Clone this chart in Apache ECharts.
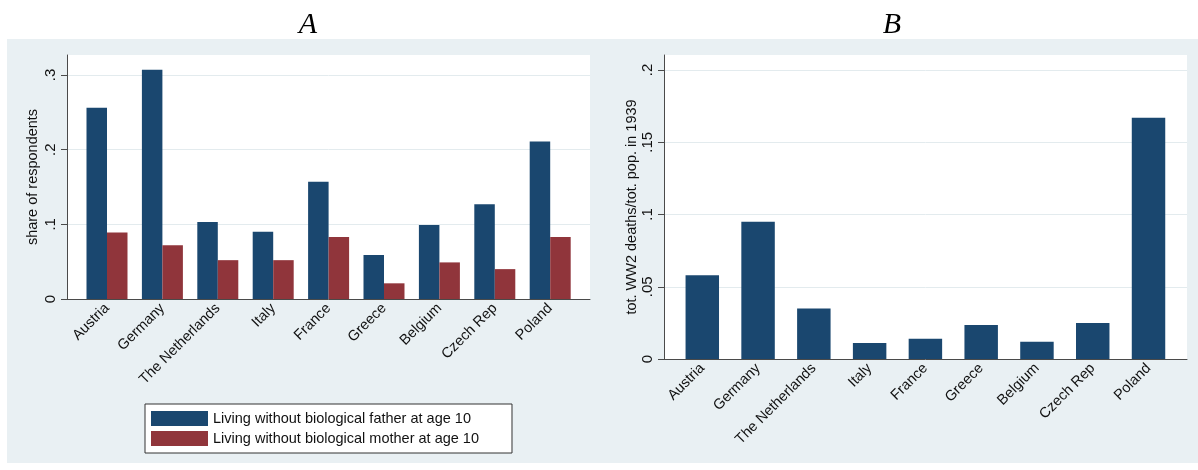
<!DOCTYPE html>
<html>
<head>
<meta charset="utf-8">
<script src="https://cdn.jsdelivr.net/npm/echarts@6/dist/echarts.min.js"></script>
<style>
  html, body { margin: 0; padding: 0; background: #ffffff; }
  #wrap { position: relative; width: 1198px; height: 470px; }
  #panelBg { position: absolute; left: 7px; top: 39px; width: 1191px; height: 424px; background: #e9f0f3; }
  #chart { position: absolute; left: 0; top: 0; width: 1198px; height: 470px; }
</style>
</head>
<body>
<div id="wrap">
  <div id="panelBg"></div>
  <div id="chart"></div>
</div>
<script>
// Countries shown on both panels
const countries = ['Austria', 'Germany', 'The Netherlands', 'Italy', 'France', 'Greece', 'Belgium', 'Czech Rep', 'Poland'];

// Panel A: share of respondents living without a biological parent at age 10
const fatherAbsent = [0.256, 0.307, 0.103, 0.090, 0.157, 0.059, 0.099, 0.127, 0.211];
const motherAbsent = [0.089, 0.072, 0.052, 0.052, 0.083, 0.021, 0.049, 0.040, 0.083];

// Panel B: total WW2 deaths over total population in 1939
const warDeathShare = [0.058, 0.095, 0.035, 0.011, 0.014, 0.0235, 0.012, 0.025, 0.167];

// Tick values for the two value axes
const ticksA = [0, 0.1, 0.2, 0.3];
const ticksB = [0, 0.05, 0.1, 0.15, 0.2];

const fatherName = 'Living without biological father at age 10';
const motherName = 'Living without biological mother at age 10';
const deathsName = 'tot. WW2 deaths/tot. pop. in 1939';

const NAVY = '#1a476f';
const MAROON = '#90353b';
const AXIS = '#4a4a4a';
const GRID_LINE = '#e3ebee';
const FONT = '"Liberation Sans", Arial, Helvetica, sans-serif';

const maxA = 0.3267;
const maxB = 0.2104;

// Stata-style tick labels: ".1" instead of "0.1"
const stataNum = v => (v === 0 ? '0' : String(+v.toFixed(4)).replace(/^0\./, '.'));

// Frame axes: draw axis lines, ticks, labels and grid lines across the full plot region
function frameX(gridIndex) {
  return {
    gridIndex, type: 'value', min: 0, max: 1,
    axisLine: { show: true, onZero: false, lineStyle: { color: AXIS, width: 1 } },
    axisTick: { show: false }, axisLabel: { show: false }, splitLine: { show: false }
  };
}
function frameY(gridIndex, max, interval, ticks, name, nameGap) {
  return {
    gridIndex, type: 'value', min: 0, max, interval,
    name, nameLocation: 'middle', nameRotate: 90, nameGap,
    nameTextStyle: { fontFamily: FONT, fontSize: 14.5, color: '#111' },
    axisLine: { show: true, lineStyle: { color: AXIS, width: 1 } },
    axisTick: { show: true, length: 6, customValues: ticks, lineStyle: { color: AXIS } },
    axisLabel: {
      customValues: ticks, rotate: 90, margin: 9,
      fontFamily: FONT, fontSize: 15, color: '#111',
      formatter: v => stataNum(v)
    },
    splitLine: { show: true, lineStyle: { color: GRID_LINE, width: 1 } }
  };
}
// Bar axes: category bands inset from the frame, labels rotated 45 degrees
function barX(gridIndex) {
  return {
    gridIndex, type: 'category', data: countries,
    axisLine: { show: false }, axisTick: { show: false },
    axisLabel: { interval: 0, rotate: 45, margin: 7, fontFamily: FONT, fontSize: 14.5, color: '#111' },
    splitLine: { show: false }
  };
}
function barY(gridIndex, max) {
  return { gridIndex, type: 'value', min: 0, max, show: false, splitLine: { show: false } };
}

const chart = echarts.init(document.getElementById('chart'), null, { renderer: 'canvas' });

chart.setOption({
  backgroundColor: 'transparent',
  animation: false,
  title: [
    { text: 'A', left: 303, top: 5, textAlign: 'center',
      textStyle: { fontFamily: '"Liberation Serif", "DejaVu Serif", serif', fontStyle: 'italic', fontWeight: 'normal', fontSize: 30, color: '#000' } },
    { text: 'B', left: 887, top: 5, textAlign: 'center',
      textStyle: { fontFamily: '"Liberation Serif", "DejaVu Serif", serif', fontStyle: 'italic', fontWeight: 'normal', fontSize: 30, color: '#000' } }
  ],
  grid: [
    { left: 67, top: 55, width: 523, height: 244, show: true, backgroundColor: '#ffffff', borderWidth: 0 },
    { left: 79.3, top: 55, width: 498.6, height: 244, show: false },
    { left: 664, top: 55, width: 523, height: 304, show: true, backgroundColor: '#ffffff', borderWidth: 0 },
    { left: 674.4, top: 55, width: 502, height: 304, show: false }
  ],
  xAxis: [frameX(0), barX(1), frameX(2), barX(3)],
  yAxis: [
    frameY(0, maxA, 0.1, ticksA, 'share of respondents', 27),
    barY(1, maxA),
    frameY(2, maxB, 0.05, ticksB, deathsName, 25),
    barY(3, maxB)
  ],
  legend: {
    data: [fatherName, motherName],
    orient: 'vertical',
    left: 145, top: 404,
    padding: [7, 33, 7, 6],
    itemGap: 5,
    itemWidth: 57, itemHeight: 15,
    icon: 'rect',
    backgroundColor: '#ffffff',
    borderColor: '#333333', borderWidth: 1,
    textStyle: { fontFamily: FONT, fontSize: 14.5, color: '#111' }
  },
  series: [
    { type: 'bar', name: fatherName, xAxisIndex: 1, yAxisIndex: 1, data: fatherAbsent,
      barGap: '0%', barCategoryGap: '26%', itemStyle: { color: NAVY } },
    { type: 'bar', name: motherName, xAxisIndex: 1, yAxisIndex: 1, data: motherAbsent,
      barGap: '0%', barCategoryGap: '26%', itemStyle: { color: MAROON } },
    { type: 'bar', name: deathsName, xAxisIndex: 3, yAxisIndex: 3, data: warDeathShare,
      barCategoryGap: '40%', itemStyle: { color: NAVY } }
  ]
});
</script>
</body>
</html>
